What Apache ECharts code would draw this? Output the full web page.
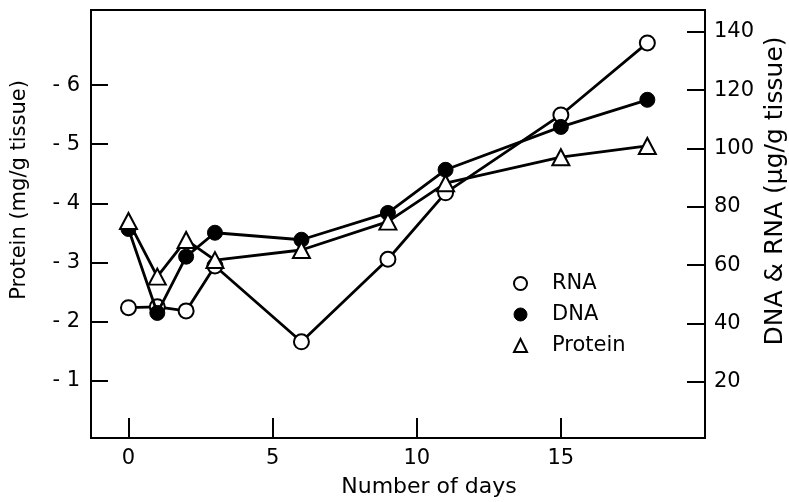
<!DOCTYPE html>
<html>
<head>
<meta charset="utf-8">
<script src="https://cdn.jsdelivr.net/npm/echarts@6/dist/echarts.min.js"></script>
<style>
  html, body { margin: 0; padding: 0; background: #fff; }
  #box { width: 789px; height: 502px; }
</style>
</head>
<body>
<div id="box"></div>
<script>
// days of sampling
var days = [0, 1, 2, 3, 6, 9, 11, 15, 18];
// ug/g tissue (right axis)
var rna = [45.4, 45.7, 44.3, 59.7, 33.7, 62.0, 84.8, 111.5, 136.2];
var dna = [72.4, 43.6, 62.9, 71.1, 68.7, 77.9, 92.7, 107.4, 116.7];
// mg/g tissue (left axis)
var protein = [3.70, 2.76, 3.38, 3.04, 3.21, 3.69, 4.34, 4.78, 4.97];

var xTicks = [0, 5, 10, 15];
var leftTicks = [1, 2, 3, 4, 5, 6];
var rightTicks = [20, 40, 60, 80, 100, 120, 140];

function pairs(ys) {
    return days.map(function (d, i) { return [d, ys[i]]; });
}

var font = 'DejaVu Sans';
var myChart = echarts.init(document.getElementById('box'));

var option = {
    backgroundColor: '#fff',
    animation: false,
    grid: {
        left: 91, right: 84, top: 10, bottom: 64,
        show: true, borderColor: '#000', borderWidth: 2
    },
    legend: {
        orient: 'vertical',
        left: 508, top: 268,
        itemWidth: 13, itemHeight: 13, itemGap: 10,
        textStyle: { fontFamily: font, fontSize: 21, color: '#000', padding: [0, 0, 0, 20] },
        data: [
            { name: 'RNA', icon: 'circle', itemStyle: { color: '#fff', borderColor: '#000', borderWidth: 2 } },
            { name: 'DNA', icon: 'circle', itemStyle: { color: '#000', borderColor: '#000', borderWidth: 1 } },
            { name: 'Protein', icon: 'triangle', itemStyle: { color: '#fff', borderColor: '#000', borderWidth: 2 } }
        ]
    },
    xAxis: {
        type: 'value', min: -1.3, max: 20,
        splitLine: { show: false },
        axisLine: { onZero: false, lineStyle: { color: '#000', width: 2 } },
        axisTick: { inside: true, length: 20, customValues: xTicks, lineStyle: { color: '#000', width: 2 } },
        axisLabel: { customValues: xTicks, margin: 10, color: '#000', fontFamily: font, fontSize: 21 }
    },
    yAxis: [
        {
            type: 'value', min: 0.03, max: 7.27, position: 'left',
            splitLine: { show: false },
            axisLine: { show: true, onZero: false, lineStyle: { color: '#000', width: 2 } },
            axisTick: { inside: true, length: 17, customValues: leftTicks, lineStyle: { color: '#000', width: 2 } },
            axisLabel: {
                customValues: leftTicks, margin: 11, color: '#000', fontFamily: font, fontSize: 21,
                formatter: function (v) { return '- ' + v; }
            }
        },
        {
            type: 'value', min: 0.7, max: 147.5, position: 'right',
            splitLine: { show: false },
            axisLine: { show: true, onZero: false, lineStyle: { color: '#000', width: 2 } },
            axisTick: { inside: true, length: 18, customValues: rightTicks, lineStyle: { color: '#000', width: 2 } },
            axisLabel: { customValues: rightTicks, margin: 9, color: '#000', fontFamily: font, fontSize: 21 }
        }
    ],
    graphic: [
        {
            type: 'text', x: 20, y: 190, rotation: Math.PI / 2,
            style: { text: 'Protein (mg/g tissue)', fontFamily: font, fontSize: 21, fill: '#000', align: 'center', verticalAlign: 'middle' }
        },
        {
            type: 'text', x: 775, y: 191, rotation: Math.PI / 2,
            style: { text: 'DNA & RNA (\u00b5g/g tissue)', fontFamily: font, fontSize: 25, fill: '#000', align: 'center', verticalAlign: 'middle' }
        },
        {
            type: 'text', x: 429, y: 487,
            style: { text: 'Number of days', fontFamily: font, fontSize: 22, fill: '#000', align: 'center', verticalAlign: 'middle' }
        }
    ],
    series: [
        {
            name: 'RNA', type: 'line', yAxisIndex: 1, data: pairs(rna),
            symbol: 'circle', symbolSize: 15, z: 2,
            lineStyle: { color: '#000', width: 2.8 },
            itemStyle: { color: '#fff', borderColor: '#000', borderWidth: 2 }
        },
        {
            name: 'DNA', type: 'line', yAxisIndex: 1, data: pairs(dna),
            symbol: 'circle', symbolSize: 15, z: 3,
            lineStyle: { color: '#000', width: 2.8 },
            itemStyle: { color: '#000', borderColor: '#000', borderWidth: 1 }
        },
        {
            name: 'Protein', type: 'line', yAxisIndex: 0, data: pairs(protein),
            symbol: 'triangle', symbolSize: [17, 16], z: 4,
            lineStyle: { color: '#000', width: 2.8 },
            itemStyle: { color: '#fff', borderColor: '#000', borderWidth: 2 }
        }
    ]
};

myChart.setOption(option, true);
</script>
</body>
</html>
